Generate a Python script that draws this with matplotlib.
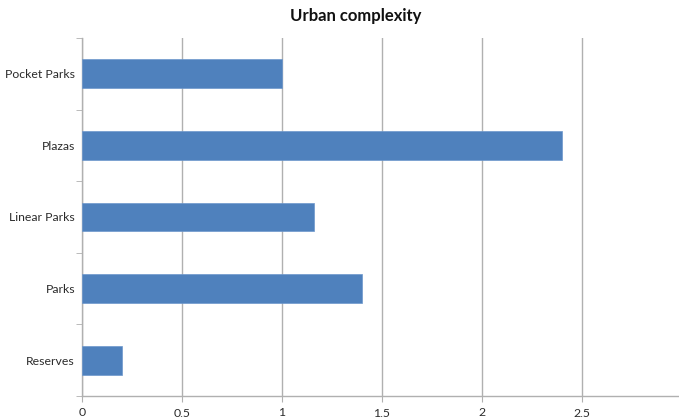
import matplotlib.pyplot as plt

# Data (top to bottom as shown)
categories = ["Pocket Parks", "Plazas", "Linear Parks", "Parks", "Reserves"]
values = [1.0, 2.4, 1.16, 1.4, 0.2]
tick_vals = [0, 0.5, 1, 1.5, 2, 2.5]
tick_labels = ["0", "0,5", "1", "1,5", "2", "2,5"]

plt.rcParams['font.family'] = ['Lato', 'DejaVu Sans']

fig = plt.figure(figsize=(6.79, 4.17), dpi=100)
ax = fig.add_axes([82 / 679, 1 - 396 / 417, 1 - 82 / 679, (396 - 38) / 417])

pos = list(range(len(categories)))[::-1]
ax.barh(pos, values, height=0.4, color="#4F81BD", edgecolor="#6D97CC", linewidth=0.5, zorder=3)

ax.set_xlim(0, 2.985)
ax.set_ylim(-0.5, len(categories) - 0.5)
ax.set_xticks(tick_vals)
ax.set_xticklabels(tick_labels, fontsize=8.8, color="#2b2b2b")
ax.set_yticks(pos)
ax.set_yticklabels(categories, fontsize=8.8, color="#2b2b2b")
ax.set_yticks([p - 0.5 for p in range(len(categories) + 1)], minor=True)

ax.grid(axis="x", color="#B0B0B0", linewidth=1, zorder=0)
ax.tick_params(axis="y", which="major", length=0, pad=5)
ax.tick_params(axis="y", which="minor", length=4, color="#B0B0B0", direction="out")
ax.tick_params(axis="x", length=4, color="#B0B0B0", pad=4)

for s in ["top", "right"]:
    ax.spines[s].set_visible(False)
for s in ["left", "bottom"]:
    ax.spines[s].set_color("#B0B0B0")
    ax.spines[s].set_linewidth(1)

fig.text(356 / 679, 1 - 16 / 417, "Urban complexity", ha="center", va="center",
         fontsize=12, fontweight="bold", color="#111111")

fig.savefig("out.png", dpi=100)
